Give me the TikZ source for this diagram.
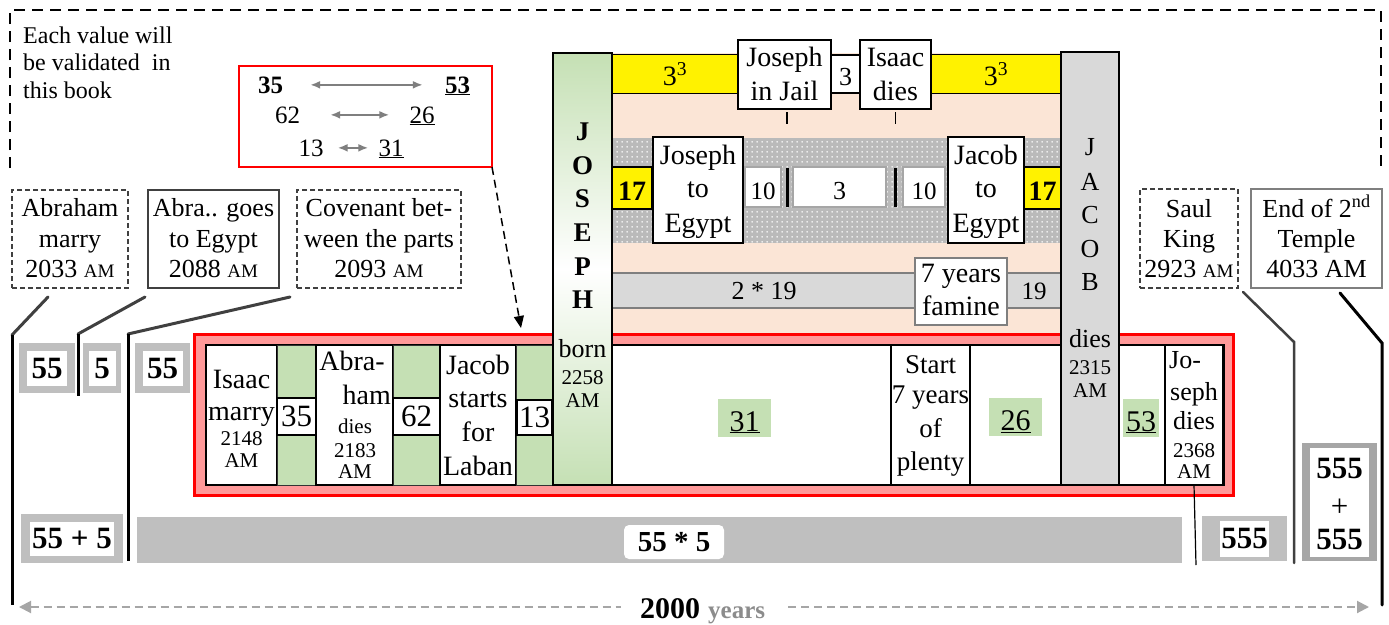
\documentclass[tikz,border=0pt]{standalone}
\usepackage{fontspec}
\setmainfont{Liberation Serif}
\usetikzlibrary{arrows.meta,patterns,calc,fit}
\definecolor{frgray}{HTML}{BFBFBF}
\definecolor{frgray2}{HTML}{A6A6A6}
\definecolor{salmon}{HTML}{FF9999}
\definecolor{lgreen}{HTML}{C5E0B4}
\definecolor{peach}{HTML}{FBE5D6}
\definecolor{lgray}{HTML}{D9D9D9}
\definecolor{dgray}{HTML}{404040}
\definecolor{mgray}{HTML}{7F7F7F}
\definecolor{dotgray}{HTML}{BABABA}
\definecolor{ygray}{HTML}{8C8C8C}
\pgfdeclarepatternformonly{wdots}{\pgfqpoint{0pt}{0pt}}{\pgfqpoint{5pt}{5pt}}{\pgfqpoint{5pt}{5pt}}{\pgfpathcircle{\pgfqpoint{2.5pt}{2.5pt}}{1pt}\pgfusepath{fill}}
\newcommand{\fz}[1]{\fontsize{#1}{#1}\selectfont}
\newcommand{\am}{{\fz{19}AM}}
\newcounter{tlc}
\newcommand{\tl}[4][]{\stepcounter{tlc}\node[anchor=base,inner sep=0pt,#1] (tl\arabic{tlc}) at (#2,#3) {#4};}
\newcommand{\bx}[6][box]{\node[inner sep=0pt, outer sep=0pt, #1, fit={(#3,#4) (#5,#6)}] (#2) {};}
\begin{document}
\begin{tikzpicture}[x=1pt,y=-1pt,
  box/.style={draw=black, line width=1.2pt, fill=white},
  dbox/.style={draw=dgray, line width=1.5pt, dash pattern=on 5pt off 3pt, fill=white},
  sbox/.style={draw=gray!70, line width=1.2pt, fill=white},
  gbox/.style={draw=black!80, line width=1pt, fill=lgreen},
  garr/.style={draw=mgray, line width=2pt, {Latex[length=10pt,width=8pt]}-{Latex[length=10pt,width=8pt]}},
  numtxt/.style={anchor=base, inner sep=0pt, font=\fz{25}},
  whitein/.style={fill=white, inner sep=0pt, font=\fz{31}\bfseries},
  dimarr/.style={draw=frgray2, line width=2pt, dash pattern=on 8pt off 5pt},
]
\useasboundingbox (0,0) rectangle (1389,624);
\fill[white] (0,0) rectangle (1389,624);

% dashed frame and note
\draw[black, line width=2pt, dash pattern=on 11pt off 7pt] (10,168) -- (10,10) -- (1381,10) -- (1381,170);
\tl[anchor=base west]{23}{43}{\fz{24}Each value will}
\tl[anchor=base west]{23}{70}{\fz{24}be validated~ in}
\tl[anchor=base west]{23}{98}{\fz{24}this book}

% red legend box
\bx[draw=red, line width=1.5pt]{rb}{239}{66}{492}{167}
\node[numtxt, font=\fz{25}\bfseries] (n35) at (270.5,93) {35};
\node[numtxt, font=\fz{25}\bfseries] (n53) at (457.5,93) {\underline{53}};
\node[numtxt] (n62) at (287.5,123) {62};
\node[numtxt] (n26) at (422,123) {\underline{26}};
\node[numtxt] (n13) at (311,156) {13};
\node[numtxt] (n31) at (391,156) {\underline{31}};
\draw[garr, shorten <=27pt, shorten >=22pt] (n35.east) -- (n35.east -| n53.west);
\draw[garr, shorten <=30pt, shorten >=20pt] (n62.east) -- (n62.east -| n26.west);
\draw[garr, shorten <=14pt, shorten >=10pt] (n13.east) -- (n13.east -| n31.west);
\coordinate (dtip) at (521,328);
\draw[black, line width=1.5pt, dash pattern=on 8pt off 5pt, -{Triangle[length=12pt,width=10pt]}] (rb.south east) -- (dtip);

% top event boxes
\bx[dbox]{abr}{12}{190}{128}{288}
\bx[box, draw=dgray]{goes}{148}{190}{279}{288}
\bx[dbox]{cov}{297}{190}{461}{288}
\bx[dbox]{saul}{1140}{189}{1238}{288}
\bx[box, draw=mgray, line width=1.5pt]{temple}{1251}{189}{1382}{288}
\tl{70}{216}{\fz{26}Abraham}
\tl{70}{247}{\fz{26}marry}
\tl{70}{277}{\fz{26}2033 \am}
\tl{213.5}{216}{\fz{26}Abra.. goes}
\tl{213.5}{247}{\fz{26}to Egypt}
\tl{213.5}{277}{\fz{26}2088 \am}
\tl{379}{216}{\fz{26}Covenant bet-}
\tl{379}{247}{\fz{26}ween the parts}
\tl{379}{277}{\fz{26}2093 \am}
\tl{1189}{217}{\fz{26}Saul}
\tl{1189}{247}{\fz{26}King}
\tl{1189}{277}{\fz{26}2923 \am}
\tl{1316.5}{217}{\fz{26}End of 2\textsuperscript{nd}}
\tl{1316.5}{247}{\fz{26}Temple}
\tl{1316.5}{277}{\fz{26}4033 AM}

% connector lines
\coordinate (v1t) at (12,335); \coordinate (v1b) at (12,605);
\coordinate (v2t) at (78,334); \coordinate (v2b) at (78,396);
\coordinate (v3t) at (128,334); \coordinate (v3b) at (128,561);
\coordinate (v4t) at (1294,342); \coordinate (v4b) at (1294,563);
\coordinate (v5t) at (1382,343); \coordinate (v5b) at (1382,605);
\draw[dgray, line width=3pt, line cap=round] ($(abr.south west)+(36,9)$) -- (v1t);
\draw[black, line width=3pt] (v1t) -- (v1b);
\draw[dgray, line width=3pt, line cap=round] ($(goes.south west)+(-3,9)$) -- (v2t);
\draw[black, line width=3pt] (v2t) -- (v2b);
\draw[dgray, line width=3pt, line cap=round] ($(cov.south west)+(-7,9)$) -- (v3t);
\draw[black, line width=3pt] (v3t) -- (v3b);
\draw[dgray, line width=2.5pt, line cap=round] ($(saul.south east)+(5,4)$) -- (v4t) -- (v4b);
\draw[black, line width=3pt, line cap=round] ($(temple.south west)+(89,5)$) -- (v5t) -- (v5b);

% left gray number boxes
\bx[fill=frgray, draw=none]{g55a}{19}{343}{75}{393}
\node[whitein, minimum width=40pt, minimum height=35pt] (w55a) at (g55a) {55};
\bx[fill=frgray, draw=none]{g5}{83}{343}{121}{393}
\node[whitein, minimum width=27pt, minimum height=35pt] (w5) at (g5) {5};
\bx[fill=frgray, draw=none]{g55b}{135}{343}{190}{393}
\node[whitein, minimum width=40pt, minimum height=35pt] (w55b) at (g55b) {55};
\bx[fill=frgray, draw=none]{g55p5}{21}{514}{123}{563}
\node[whitein, minimum width=84pt, minimum height=34pt] (w55p5) at (g55p5) {55 + 5};
\bx[fill=frgray, draw=none]{bar}{137}{517}{1182}{563}
\node[fill=white, rounded corners=5pt, inner sep=0pt, minimum width=100pt, minimum height=34pt, font=\fz{29}\bfseries] (w55t5) at (674,542) {55 * 5};
\bx[fill=frgray, draw=none]{g555}{1202}{516}{1287}{561}
\node[whitein, minimum width=49pt, minimum height=36pt] (w555) at (g555) {555};
\bx[fill=frgray2, draw=none]{g1110}{1302}{443}{1377}{561}
\node[fill=white, inner sep=0pt, minimum width=59pt, minimum height=109pt] (w1110) at (g1110) {};
\tl{1339.5}{478}{\fz{31}\bfseries 555}
\tl{1339.5}{516}{\fz{31}+}
\tl{1339.5}{549}{\fz{31}\bfseries 555}

% 2000 years arrow
\coordinate (aL) at (19,607); \coordinate (gL) at (621,607);
\coordinate (gR) at (788,607); \coordinate (aR) at (1369,607);
\draw[dimarr, {Triangle[length=12pt,width=12pt]}-] (aL) -- (gL);
\draw[dimarr, -{Triangle[length=12pt,width=12pt]}] (gR) -- (aR);
\tl[anchor=base west]{640}{618}{{\fz{30}\bfseries 2000}\hspace{8pt}{\fz{25}\bfseries\color{ygray}years}}

% upper region
\bx[fill=peach, draw=none]{peach}{612}{53}{1061}{334}
\bx[box, fill=yellow, line width=1pt]{ya}{612}{54}{738}{93}
\bx[box, fill=yellow, line width=1pt]{yb}{931}{54}{1061}{93}
\bx[box]{b3top}{831}{55}{860}{93}
\bx[box]{jail}{738}{40}{831}{109}
\bx[box]{idies}{860}{40}{931}{109}
\tl{675}{85}{\fz{28}3\textsuperscript{3}}
\tl{996}{85}{\fz{28}3\textsuperscript{3}}
\tl{845.5}{85}{\fz{26}3}
\tl{784.5}{66}{\fz{28}Joseph}
\tl{784.5}{100}{\fz{28}in Jail}
\tl{895.5}{66}{\fz{28}Isaac}
\tl{895.5}{100}{\fz{28}dies}
\draw[line width=1.5pt] ($(jail.south)+(2.5,3)$) -- ++(0,12);
\draw[line width=1.5pt] ($(idies.south)+(0,3)$) -- ++(0,12);

\bx[fill=dotgray, draw=none]{dots}{612}{138}{1061}{243}
\fill[pattern=wdots, pattern color=white] (dots.south west) rectangle (dots.north east);
\bx[box, fill=yellow]{y17a}{612}{167}{652}{209}
\tl{632}{200}{\fz{28}\bfseries 17}
\bx[box]{jte}{653}{137}{743}{243}
\tl{698}{164}{\fz{28}Joseph}
\tl{698}{197}{\fz{28}to}
\tl{698}{232}{\fz{28}Egypt}
\bx[sbox]{b10a}{745}{167}{781}{207}
\tl{763}{199}{\fz{25}10}
\draw[line width=3pt] (787,168) -- (787,207);
\bx[sbox]{b3mid}{793}{167}{886}{207}
\tl{839.5}{199}{\fz{26}3}
\draw[line width=3pt] (895,168) -- (895,207);
\bx[sbox]{b10b}{903}{167}{945}{207}
\tl{924}{199}{\fz{25}10}
\bx[box]{jace}{948}{137}{1024}{243}
\tl{986}{164}{\fz{28}Jacob}
\tl{986}{197}{\fz{28}to}
\tl{986}{232}{\fz{28}Egypt}
\bx[box, fill=yellow]{y17b}{1024}{167}{1061}{209}
\tl{1042.5}{200}{\fz{28}\bfseries 17}

\bx[fill=lgray, draw=mgray, line width=1.2pt]{famb}{612}{273}{1061}{308}
\tl{764}{299}{\fz{26}2 * 19}
\tl{1034}{299}{\fz{25}19}
\bx[box, draw=mgray, line width=2pt]{famine}{915}{258}{1007}{325}
\tl{961}{282}{\fz{28}7 years}
\tl{961}{315}{\fz{28}famine}

% main band
\bx[fill=salmon, draw=red, line width=3pt]{band}{194}{334}{1233}{495}
\bx[box, line width=1.5pt]{content}{206}{345}{1224}{485}
\bx[box]{isaac}{206}{345}{277}{485}
\bx[gbox]{gr1}{277}{345}{316}{485}
\bx[box]{b35}{277}{398}{316}{435}
\bx[box]{abra}{316}{345}{393}{485}
\bx[gbox]{gr2}{393}{345}{440}{485}
\bx[box]{b62}{393}{398}{440}{435}
\bx[box]{jacl}{440}{345}{516}{485}
\bx[gbox]{gr3}{516}{345}{553}{485}
\bx[box]{b13}{517}{400}{552}{435}
\bx[box]{c31}{612}{345}{891}{485}
\bx[box]{plenty}{891}{345}{970}{485}
\bx[box]{c26}{970}{345}{1061}{485}
\bx[box]{c53}{1119}{345}{1165}{485}
\bx[box]{jdies}{1165}{345}{1223}{485}

\tl{241.5}{388}{\fz{28}Isaac}
\tl{241.5}{420}{\fz{28}marry}
\tl{241.5}{445}{\fz{21}2148}
\tl{241.5}{467}{\fz{21}AM}
\node[inner sep=0pt, font=\fz{31}] (t35) at (b35) {35};
\tl{352}{370}{\fz{28}Abra-}
\tl[anchor=base east]{391}{404}{\fz{28}ham}
\tl{355}{433}{\fz{21}dies}
\tl{355}{457}{\fz{21}2183}
\tl{355}{478}{\fz{21}AM}
\node[inner sep=0pt, font=\fz{31}] (t62) at (b62) {62};
\tl{478}{374}{\fz{28}Jacob}
\tl{478}{407}{\fz{28}starts}
\tl{478}{441}{\fz{28}for}
\tl{478}{475}{\fz{28}Laban}
\node[inner sep=0pt, font=\fz{31}] (t13) at (b13) {13};

\bx[fill=lgreen, draw=none]{h31}{718}{399}{771}{437}
\tl{744.5}{431}{\fz{30}\underline{31}}
\tl{930.5}{373}{\fz{27}Start}
\tl{930.5}{403}{\fz{27}7 years}
\tl{930.5}{437}{\fz{27}of}
\tl{930.5}{470}{\fz{27}plenty}
\bx[fill=lgreen, draw=none]{h26}{989}{398}{1042}{436}
\tl{1015.5}{430}{\fz{30}\underline{26}}
\bx[fill=lgreen, draw=none]{h53}{1123}{399}{1159}{437}
\tl{1141}{431}{\fz{30}\underline{53}}
\tl[anchor=base west]{1169}{368}{\fz{26}Jo-}
\tl{1194}{400}{\fz{26}seph}
\tl{1194}{429}{\fz{26}dies}
\tl{1194}{457}{\fz{21}2368}
\tl{1194}{478}{\fz{21}AM}
\coordinate (jdl) at (1196,565);
\draw[line width=1.2pt] (jdies.south) -- (jdl);

% columns
\bx[draw=black, line width=1.2pt, top color=lgreen, bottom color=lgreen, middle color=white]{joseph}{553}{53}{612}{485}
\tl{582.5}{140}{\fz{27}\bfseries J}
\tl{582.5}{174}{\fz{27}\bfseries O}
\tl{582.5}{207}{\fz{27}\bfseries S}
\tl{582.5}{241}{\fz{27}\bfseries E}
\tl{582.5}{275}{\fz{27}\bfseries P}
\tl{582.5}{308}{\fz{27}\bfseries H}
\tl{582.5}{357}{\fz{26}born}
\tl{582.5}{384}{\fz{21}2258}
\tl{582.5}{407}{\fz{21}AM}
\bx[box, fill=lgray]{jacob}{1061}{52}{1119}{485}
\tl{1090}{155}{\fz{26}J}
\tl{1090}{190}{\fz{26}A}
\tl{1090}{223}{\fz{26}C}
\tl{1090}{257}{\fz{26}O}
\tl{1090}{290}{\fz{26}B}
\tl{1090}{347}{\fz{26}dies}
\tl{1090}{374}{\fz{21}2315}
\tl{1090}{397}{\fz{21}AM}
\end{tikzpicture}
\end{document}
